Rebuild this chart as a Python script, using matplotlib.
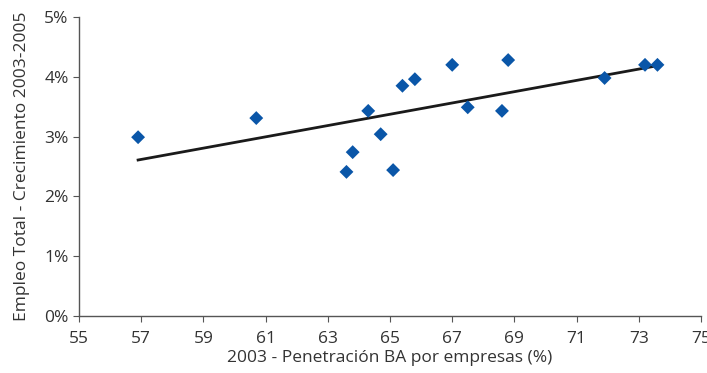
import numpy as np
import matplotlib.pyplot as plt
from matplotlib.ticker import FuncFormatter

# penetracion BA por empresas (%) y crecimiento del empleo total 2003-2005 (%)
penetracion = [56.9, 60.7, 63.6, 63.8, 64.3, 64.7, 65.1, 65.4, 65.8, 67.0,
               67.5, 68.6, 68.8, 71.9, 73.2, 73.6]
crecimiento = [2.99, 3.31, 2.41, 2.74, 3.43, 3.04, 2.44, 3.85, 3.96, 4.20,
               3.49, 3.43, 4.28, 3.98, 4.20, 4.20]

xticks = [55, 57, 59, 61, 63, 65, 67, 69, 71, 73, 75]
yticks = [0, 1, 2, 3, 4, 5]

x = np.array(penetracion)
y = np.array(crecimiento)
m, b = np.polyfit(x, y, 1)
xl = np.array([x.min(), x.max()])

plt.rcParams['font.family'] = ['Open Sans', 'DejaVu Sans']
fig = plt.figure(figsize=(7.07, 3.73), dpi=100)
ax = fig.add_axes([79/707, 1-316/373, 622/707, 299/373])

ax.plot(xl, m*xl + b, color='#1a1a1a', lw=2, zorder=2)
ax.scatter(x, y, marker='D', s=50, color='#0a56a8', edgecolors='none', zorder=3)

ax.set_xlim(55, 75)
ax.set_ylim(0, 5)
ax.set_xticks(xticks)
ax.set_yticks(yticks)
ax.yaxis.set_major_formatter(FuncFormatter(lambda v, p: '%d%%' % v))

for s in ['top', 'right']:
    ax.spines[s].set_visible(False)
for s in ['left', 'bottom']:
    ax.spines[s].set_color('#555555')
    ax.spines[s].set_linewidth(1)
ax.tick_params(colors='#555555', labelcolor='#333333', labelsize=12.5, length=4)
ax.tick_params(axis='x', pad=7)

ax.set_xlabel('2003 - Penetración BA por empresas (%)', fontsize=12.5, color='#333333', labelpad=2)
ax.set_ylabel('Empleo Total - Crecimiento 2003-2005', fontsize=12.5, color='#333333', labelpad=10)

fig.savefig('out.png', dpi=100)
